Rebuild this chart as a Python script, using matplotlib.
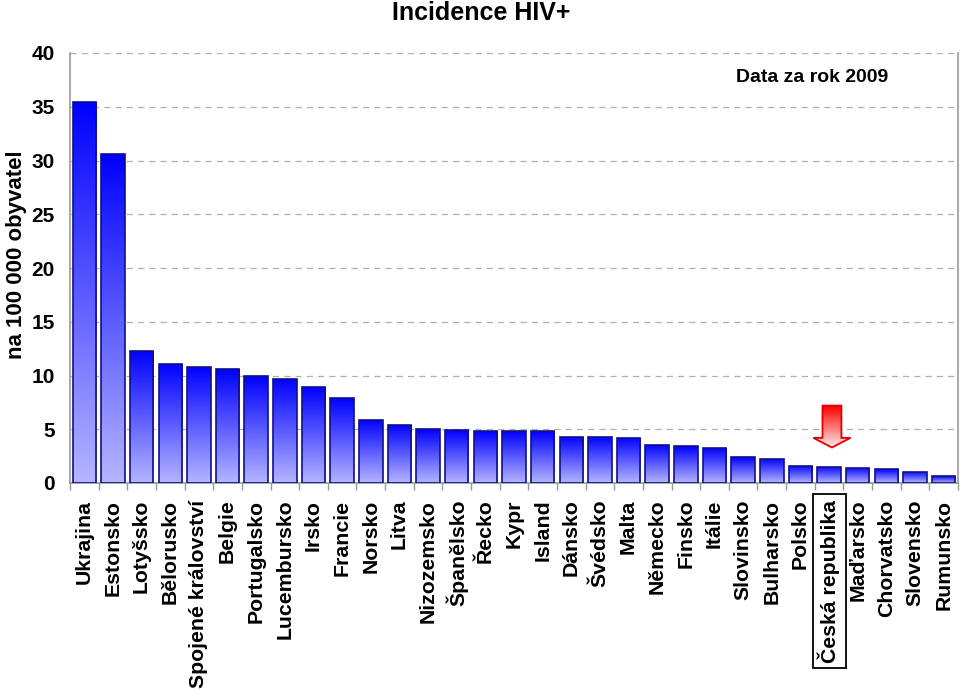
import matplotlib
matplotlib.use("Agg")
import matplotlib.pyplot as plt
import numpy as np
from matplotlib.patches import Polygon
from matplotlib.colors import LinearSegmentedColormap

countries = ["Ukrajina", "Estonsko", "Lotyšsko", "Bělorusko", "Spojené království",
             "Belgie", "Portugalsko", "Lucembursko", "Irsko", "Francie", "Norsko",
             "Litva", "Nizozemsko", "Španělsko", "Řecko", "Kypr", "Island", "Dánsko",
             "Švédsko", "Malta", "Německo", "Finsko", "Itálie", "Slovinsko",
             "Bulharsko", "Polsko", "Česká republika", "Maďarsko", "Chorvatsko",
             "Slovensko", "Rumunsko"]
values = [35.4, 30.6, 12.3, 11.1, 10.8, 10.6, 9.95, 9.7, 8.9, 7.9, 5.9,
          5.4, 5.0, 4.9, 4.8, 4.8, 4.8, 4.3, 4.3, 4.2, 3.55, 3.4, 3.25, 2.4,
          2.25, 1.6, 1.5, 1.4, 1.3, 1.05, 0.65]
yticks = [0, 5, 10, 15, 20, 25, 30, 35, 40]
highlight = "Česká republika"

plt.rcParams['font.family'] = ['Liberation Sans', 'DejaVu Sans']
plt.rcParams['font.weight'] = 'bold'

fig = plt.figure(figsize=(9.6, 6.9), dpi=100)
ax = fig.add_axes([70/960, 1-483/690, 888/960, 430/690])

x = np.arange(len(countries))
bars = ax.bar(x, values, width=0.82, facecolor='none', edgecolor='#10108a',
              linewidth=1.2, zorder=3)

blue_cmap = LinearSegmentedColormap.from_list('b', [(0.71, 0.71, 1.0), (0.0, 0.0, 1.0)])
grad = np.linspace(0, 1, 256).reshape(-1, 1)
for b in bars:
    x0, w, h = b.get_x(), b.get_width(), b.get_height()
    im = ax.imshow(grad, extent=(x0, x0 + w, 0, h), origin='lower', cmap=blue_cmap,
                   aspect='auto', zorder=2.5, interpolation='bilinear')
    im.set_clip_path(b)

# red arrow pointing at highlighted bar
ci = countries.index(highlight) + 0.1
top, neck, tip = 7.2, 4.2, 3.3
sw, hw = 0.33, 0.65
arrow_xy = [(ci - sw, top), (ci + sw, top), (ci + sw, neck), (ci + hw, neck),
            (ci, tip), (ci - hw, neck), (ci - sw, neck)]
arrow = Polygon(arrow_xy, closed=True, facecolor='none', edgecolor='#e00000',
                linewidth=1.3, zorder=5)
ax.add_patch(arrow)
red_cmap = LinearSegmentedColormap.from_list('r', [(1.0, 0.93, 0.93), (1.0, 0.0, 0.0)])
im = ax.imshow(grad, extent=(ci - hw, ci + hw, tip, top), origin='lower', cmap=red_cmap,
               aspect='auto', zorder=4.5, interpolation='bilinear')
im.set_clip_path(arrow)

ax.set_xlim(-0.5, len(countries) - 0.5)
ax.set_ylim(0, 40)

ax.set_yticks(yticks)
ax.set_yticklabels([str(v) for v in yticks], fontsize=15, fontweight='bold')
ax.tick_params(axis='y', length=0, pad=11)
ax.yaxis.grid(True, linestyle=(0, (5, 4)), color='#b0b0b0', linewidth=0.9, zorder=1)
ax.set_axisbelow(True)

ax.set_xticks(x)
ax.set_xticklabels(countries, rotation=90, fontsize=15.3, fontweight='bold')
ax.set_xticks(np.arange(len(countries) + 1) - 0.5, minor=True)
ax.tick_params(axis='x', which='major', length=0, pad=12)
ax.tick_params(axis='x', which='minor', length=5, color='#999999', width=1)
for lbl in ax.get_xticklabels():
    if lbl.get_text() == highlight:
        lbl.set_bbox(dict(boxstyle='square,pad=0.25', facecolor='none',
                          edgecolor='black', linewidth=1.3))

for s in ['left', 'bottom', 'right']:
    ax.spines[s].set_color('#999999')
    ax.spines[s].set_linewidth(1.2)
ax.spines['top'].set_visible(False)

ax.set_ylabel("na 100 000 obyvatel", fontsize=16, fontweight='bold')
ax.yaxis.set_label_coords(-43/888, 0.53)

ax.text(0.836, 0.942, "Data za rok 2009", transform=ax.transAxes, fontsize=14,
        fontweight='bold', ha='center', va='center')

fig.text(0.501, 0.998, "Incidence HIV+", fontsize=18, fontweight='bold',
         ha='center', va='top')

fig.savefig("out.png", dpi=100)
